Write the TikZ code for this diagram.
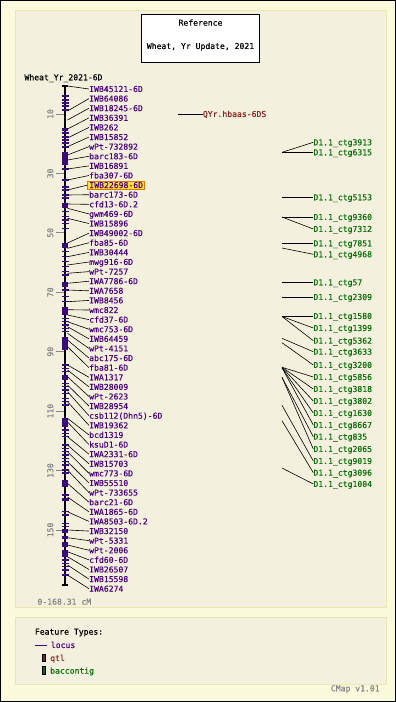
\documentclass[tikz,border=0pt]{standalone}
\usepackage{fontspec}
\newfontfamily\pix{DejaVu Sans Mono}[FakeBold=0.35]
\definecolor{outerbg}{HTML}{FCFADC}
\definecolor{panelbg}{HTML}{F3F1DD}
\definecolor{panelborder}{HTML}{EAE6AE}
\definecolor{locuscol}{HTML}{4B0082}
\definecolor{tickcol}{HTML}{3C0A78}
\definecolor{qtlcol}{HTML}{8B2323}
\definecolor{qtlbox}{HTML}{6E2B2B}
\definecolor{baccol}{HTML}{0A6E0A}
\definecolor{bacbox}{HTML}{1C5E1C}
\definecolor{scalegray}{HTML}{858585}
\definecolor{hlfill}{HTML}{FFE033}
\definecolor{hlborder}{HTML}{E07800}
\newcommand{\lab}{\pix\fontsize{8.1}{9}\selectfont}
\begin{document}
\begin{tikzpicture}[x=1pt,y=-1pt,
  plain/.style={anchor=west, inner sep=0, font=\lab, text=black, text height=5.9pt, text depth=0pt},
  locus/.style={plain, text=locuscol},
  hl/.style={plain, text=locuscol, draw=hlborder, fill=hlfill, line width=0.8pt, inner xsep=1.6pt, inner ysep=1.2pt, xshift=-1.6pt},
  bac/.style={plain, text=baccol},
  qtl/.style={plain, text=qtlcol},
  graytext/.style={plain, text=scalegray},
  scalelbl/.style={inner sep=0, font=\lab, text=scalegray, rotate=90},
  conn/.style={black, line width=0.6pt},
  tickline/.style={tickcol, line width=1.1pt}]
\useasboundingbox (0,0) rectangle (396,702);
% background and panels
\fill[outerbg] (0,0) rectangle (396,702);
\draw[black, line width=1pt] (0.5,0.5) rectangle (395.5,701.5);
\draw[panelborder, fill=panelbg, line width=1pt] (15,10) rectangle (386,607);
\draw[panelborder, fill=panelbg, line width=1pt] (15,617) rectangle (386,684);
% title box
\node (title) [draw, fill=white, line width=0.8pt, minimum width=117.5pt, minimum height=48pt, inner sep=0] at (200.5,38.2) {};
\node (t1) [plain, anchor=center] at (200.5,22.7) {Reference};
\node (t2) [plain, anchor=center] at (200.5,46) {Wheat, Yr Update, 2021};
\node (chr) [plain] at (24.3,77.3) {Wheat\_Yr\_2021-6D};
% scale
\foreach \v in {10,30,50,70,90,110,130,150} {
  \pgfmathsetmacro\yy{84.3+2.971*\v}
  \draw[scalegray, line width=0.8pt] (56,\yy) -- (64,\yy);
  \node[scalelbl] at (50.3,\yy) {\v};
}
\node (range) [graytext] at (37.3,601.7) {0-168.31 cM};
% chromosome bar
\draw[black, line width=2pt] (65,86) -- (65,585);
\draw[black, line width=2pt] (62,86) -- (68,86);
\draw[black, line width=2pt] (62,585) -- (68,585);
\foreach \t in {96,100,103,106,110,133,137,140,143,147,169,180,187,190,195,198,211.7,216.7,220,223.3,228.3,251.7,256.7,261.7,266.7,271.7,275,290,296.7,301.7,318.3,321.7,325,328.3,331.7,365,368.3,371.7,383.3,386.7,390,393.3,398.3,401.7,405,430,433.3,436.7,445,448.3,451.7,455,458.3,461.7,465,470,473,495,498.3,500,511.7,515,523.3,526.7,560,563.3,566.7,570,575}
  \draw[tickline] (61.5,\t) -- (68.5,\t);
\foreach \a/\b in {127.5/130.5,151.7/165,203/208,243/248,281.7/286.7,306.7/315,336.7/350,375/380,418.3/426.7,480/486.7,528.5/533,535.5/539,541.7/546.7,550/556.7}
  \fill[tickcol] (62,\a) rectangle (68,\b);
% loci
\foreach \i/\nm/\b/\st in {1/IWB45121-6D/86/locus,2/IWB64086/111/locus,3/IWB18245-6D/120/locus,4/IWB36391/129/locus,5/IWB262/138/locus,6/IWB15852/146.7/locus,7/wPt-732892/155/locus,8/barc183-6D/160/locus,9/IWB16891/169/locus,10/fba307-6D/180/locus,11/IWB22698-6D/190/hl,12/barc173-6D/195/locus,13/cfd13-6D.2/204/locus,14/gwm469-6D/208.3/locus,15/IWB15896/218.3/locus,16/IWB49002-6D/243/locus,17/fba85-6D/248.3/locus,18/IWB30444/256.7/locus,19/mwg916-6D/265/locus,20/wPt-7257/273.3/locus,21/IWA7786-6D/283.3/locus,22/IWA7658/290/locus,23/IWB8456/301.7/locus,24/wmc822/309.7/locus,25/cfd37-6D/315/locus,26/wmc753-6D/321.7/locus,27/IWB64459/326.7/locus,28/wPt-4151/333.3/locus,29/abc175-6D/340/locus,30/fba81-6D/346.7/locus,31/IWA1317/365/locus,32/IWB28009/370/locus,33/wPt-2623/376.7/locus,34/IWB28954/385/locus,35/csb112(Dhn5)-6D/391.7/locus,36/IWB19362/401.7/locus,37/bcd1319/418.3/locus,38/ksuD1-6D/422/locus,39/IWA2331-6D/436.7/locus,40/IWB15703/445/locus,41/wmc773-6D/451.7/locus,42/IWB55510/461.7/locus,43/wPt-733655/470/locus,44/barc21-6D/483.3/locus,45/IWA1865-6D/497/locus,46/IWA8503-6D.2/511.7/locus,47/IWB32150/530/locus,48/wPt-5331/537.7/locus,49/wPt-2006/545/locus,50/cfd60-6D/551.7/locus,51/IWB26507/556.7/locus,52/IWB15598/565/locus,53/IWA6274/575/locus} {
  \pgfmathsetmacro\ly{89+(\i-1)*9.61}
  \coordinate (m\i) at (67.5,\b);
  \node[\st] (L\i) at (89,\ly) {\nm};
  \draw[conn] (m\i) -- (L\i.west);
}
% qtl
\coordinate (q0) at (178,114);
\node (Q1) [qtl] at (202.7,114) {QYr.hbaas-6DS};
\draw[conn] (q0) -- (Q1.west);
% baccontigs
\foreach \i/\nm/\s/\e in {1/3913/152.3/142.3,2/6315/152.3/152.3,3/5153/197.3/197.3,4/9360/217/217,5/7312/217/229,6/7851/243.3/243.3,7/4968/248/254.3,8/57/282.3/282.3,9/2309/297/297,10/1580/316/316,11/1399/316.5/328,12/5362/316.5/340.7,13/3633/338.3/351.7,14/3200/342.7/365,15/5856/367.3/377,16/3818/367.3/389,17/3802/367.3/401,18/1630/367.8/413,19/8667/367.8/425,20/835/377.3/436.7,21/2065/377.3/449,22/9019/405.3/461,23/3096/420.7/472.7,24/1004/468/484} {
  \coordinate (c\i) at (282,\s);
  \node[bac] (B\i) at (313.3,\e) {D1.1\_ctg\nm};
  \draw[conn] (c\i) -- (B\i.west);
}
% legend
\node (ft) [plain] at (34.7,631.7) {Feature Types:};
\draw[locuscol, line width=1pt] (34.7,645) -- (46.7,645);
\node (lg1) [locus] at (50.7,645) {locus};
\draw[black, fill=qtlbox, line width=0.6pt] (42,654.3) rectangle (45.5,661.7);
\node (lg2) [qtl] at (50,658) {qtl};
\draw[black, fill=bacbox, line width=0.6pt] (42,666.7) rectangle (45.5,674.3);
\node (lg3) [bac] at (50,670.7) {baccontig};
\node (ver) [graytext] at (330.7,688.3) {CMap v1.01};
\end{tikzpicture}
\end{document}
